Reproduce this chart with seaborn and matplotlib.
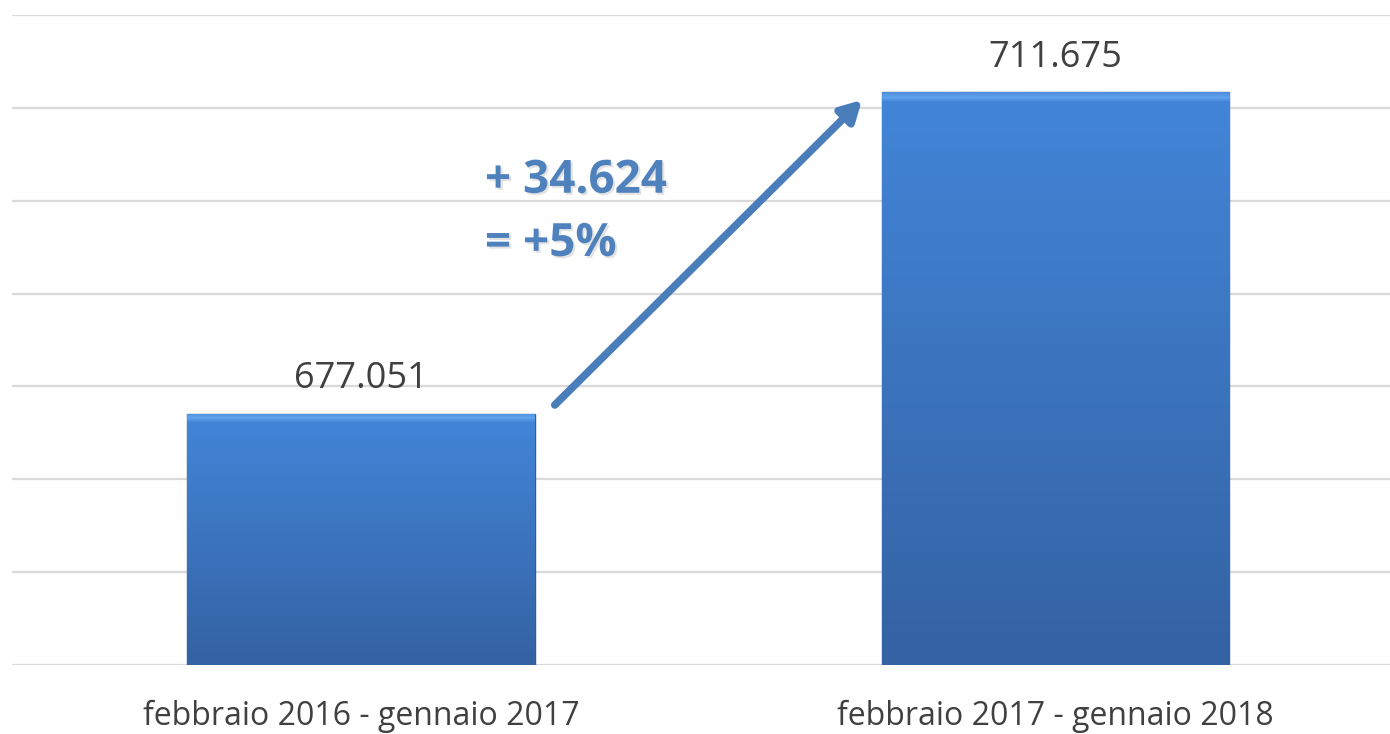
import numpy as np
import pandas as pd
import matplotlib
matplotlib.use("Agg")
import matplotlib.pyplot as plt
import matplotlib.patheffects as pe
from matplotlib.colors import LinearSegmentedColormap
import seaborn as sns

# data
periods = ["febbraio 2016 - gennaio 2017", "febbraio 2017 - gennaio 2018"]
values = [677051, 711675]
value_labels = ["677.051", "711.675"]
diff_label = "+ 34.624\n= +5%"

df = pd.DataFrame({"period": periods, "value": values})

sns.set_theme(style="white")
plt.rcParams["font.family"] = ["Open Sans", "DejaVu Sans"]

fig = plt.figure(figsize=(13.9, 7.34), dpi=100)
ax = fig.add_axes([12 / 1390, 69 / 734, 1378 / 1390, 650 / 734])

sns.barplot(data=df, x="period", y="value", color="#3f7bc8", width=0.5,
            edgecolor="#2f5d9a", linewidth=1.0, ax=ax, zorder=2)

ymin, ymax = 650000, 720000
ax.set_ylim(ymin, ymax)
ax.set_xlim(-0.5025, 1.4816)
ax.set_yticks(np.arange(ymin, ymax + 1, 10000))
ax.yaxis.grid(True, color="#d9d9d9", linewidth=1.6, zorder=0)
ax.set_axisbelow(True)
ax.set_yticklabels([])
ax.tick_params(axis="y", length=0)
ax.tick_params(axis="x", length=0, pad=25, labelsize=23, labelcolor="#404040")
ax.set_xlabel("")
ax.set_ylabel("")
sns.despine(ax=ax, left=True, bottom=True, top=True, right=True)

# gradient fill clipped to each bar, with a thin light bevel on top
px_per_unit = 650 / (ymax - ymin)
grad = np.linspace(0, 1, 512).reshape(-1, 1)
for patch in ax.patches:
    x0, y0 = patch.get_x(), patch.get_y()
    w, h = patch.get_width(), patch.get_height()
    ybot = max(y0, ymin)
    hpx = (y0 + h - ybot) * px_per_unit
    f1 = 1 - 9 / hpx
    f2 = 1 - 4 / hpx
    cmap = LinearSegmentedColormap.from_list(
        "bar", [(0.0, "#3462a3"), (f1, "#4285d7"), (f2, "#62a4ee"), (1.0, "#4f8fdc")])
    im = ax.imshow(grad, cmap=cmap, aspect="auto", origin="lower",
                   extent=[x0, x0 + w, ybot, y0 + h], zorder=2.5)
    im.set_clip_path(patch)

# value labels
for i, (v, lab) in enumerate(zip(values, value_labels)):
    ax.annotate(lab, xy=(i, v), xytext=(0, 12), textcoords="offset points",
                ha="center", va="bottom", fontsize=26, color="#404040")

# growth arrow
ax.annotate("", xy=(0.7214, 710850), xytext=(0.279, 678000),
            arrowprops=dict(arrowstyle="-|>,head_length=1.0,head_width=0.55",
                            color="#4a7ebb", lw=5.5, shrinkA=0, shrinkB=0),
            zorder=4)

ax.text(0.1785, 698800, diff_label, ha="left", va="center", fontsize=33,
        fontweight="bold", color="#4f81bd", linespacing=1.45,
        path_effects=[pe.withSimplePatchShadow(offset=(1.5, -1.5), shadow_rgbFace="#b0b0b0", alpha=0.35)])

fig.savefig("out.png", dpi=100)
